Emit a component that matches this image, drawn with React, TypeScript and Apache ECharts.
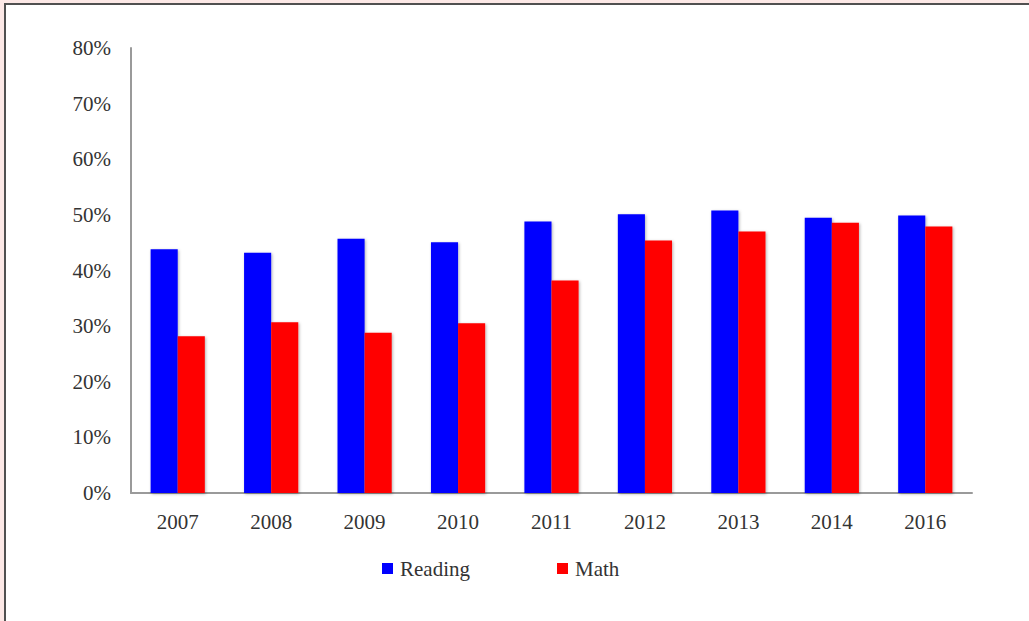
import React, { useEffect, useRef } from "react";
import * as echarts from "echarts";

const years = ["2007", "2008", "2009", "2010", "2011", "2012", "2013", "2014", "2016"];
const reading = [43.8, 43.2, 45.7, 45.1, 48.8, 50.1, 50.8, 49.5, 49.9];
const math = [28.2, 30.7, 28.8, 30.5, 38.2, 45.4, 47.0, 48.6, 47.9];
const seriesNames = ["Reading", "Math"];

const FONT = "'Liberation Serif', 'DejaVu Serif', serif";

export default function App() {
  const ref = useRef<HTMLDivElement>(null);
  useEffect(() => {
    document.body.style.margin = "0";
    const chart = echarts.init(ref.current!, null, { renderer: "svg" });
    const shadow = {
      shadowBlur: 3,
      shadowColor: "rgba(0,0,0,0.3)",
      shadowOffsetX: 1,
      shadowOffsetY: 1,
    };
    const legendText = { fontFamily: FONT, fontSize: 21, color: "#333", padding: [0, 0, 0, 2] };
    chart.setOption({
      animation: false,
      grid: { left: 131, right: 57, top: 48, bottom: 128 },
      legend: [
        {
          data: [seriesNames[0]],
          left: 377,
          top: 553,
          icon: "rect",
          itemWidth: 11,
          itemHeight: 11,
          textStyle: legendText,
        },
        {
          data: [seriesNames[1]],
          left: 552,
          top: 553,
          icon: "rect",
          itemWidth: 11,
          itemHeight: 11,
          textStyle: legendText,
        },
      ],
      xAxis: {
        type: "category",
        data: years,
        axisTick: { show: false },
        axisLine: { lineStyle: { color: "#9a9a9a", width: 2 } },
        axisLabel: { fontFamily: FONT, fontSize: 21, color: "#333", margin: 18 },
      },
      yAxis: {
        type: "value",
        min: 0,
        max: 80,
        interval: 10,
        splitLine: { show: false },
        axisTick: { show: false },
        axisLine: { show: true, lineStyle: { color: "#9a9a9a", width: 2 } },
        axisLabel: {
          formatter: "{value}%",
          fontFamily: FONT,
          fontSize: 21,
          color: "#333",
          margin: 20,
        },
      },
      series: [
        {
          name: seriesNames[0],
          type: "bar",
          data: reading,
          barGap: "0%",
          barCategoryGap: "42%",
          itemStyle: { color: "#0000ff", ...shadow },
        },
        {
          name: seriesNames[1],
          type: "bar",
          data: math,
          itemStyle: { color: "#ff0000", ...shadow },
        },
      ],
    });
    return () => chart.dispose();
  }, []);
  return (
    <div style={{ position: "fixed", left: 0, top: 0, width: 1029, height: 621, background: "#fce8e6", overflow: "hidden" }}>
      <div
        style={{
          position: "absolute",
          left: 4,
          top: 3,
          width: 1040,
          height: 640,
          background: "#ffffff",
          borderLeft: "2px solid #505050",
          borderTop: "2px solid #505050",
        }}
      />
      <div ref={ref} style={{ position: "absolute", left: 0, top: 0, width: 1029, height: 621 }} />
    </div>
  );
}
